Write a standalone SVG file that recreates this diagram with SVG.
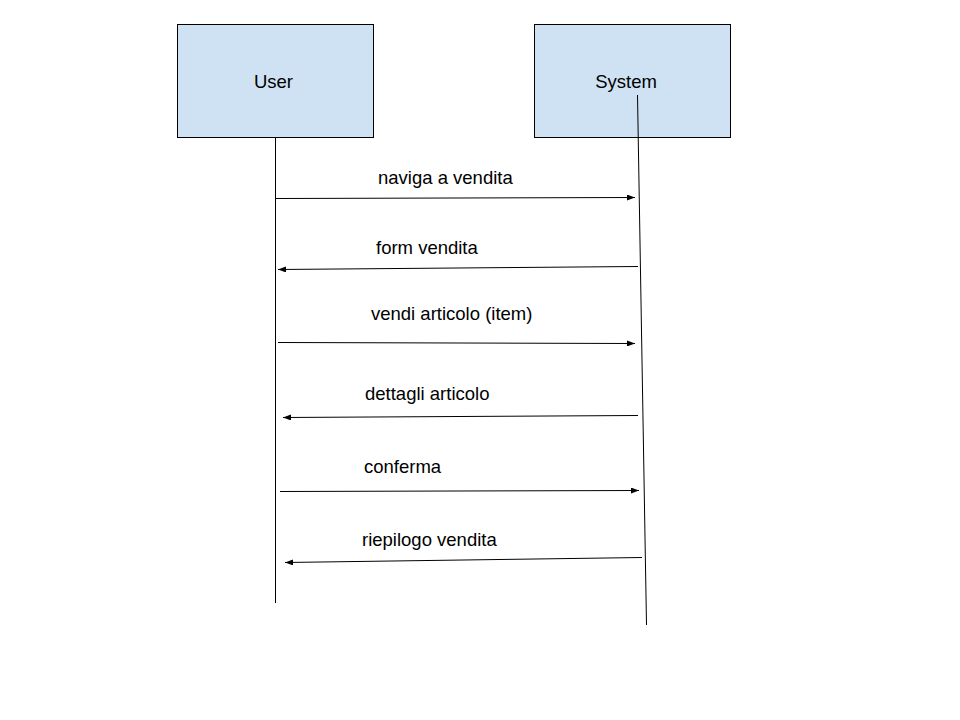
<svg xmlns="http://www.w3.org/2000/svg" width="960" height="720" viewBox="0 0 960 720">
<style>
.box{fill:#cfe2f3;stroke:#000;stroke-width:1}
.ll{stroke:#000;stroke-width:1;fill:none}
.msg{stroke:#000;stroke-width:1;fill:none;marker-end:url(#ah)}
text{font-family:"Liberation Sans",Arial,sans-serif;font-size:18.5px;fill:#000}
</style>
<defs>
<marker id="ah" viewBox="0 0 8 6" refX="8" refY="3" markerWidth="8" markerHeight="6" markerUnits="userSpaceOnUse" orient="auto">
<path d="M0,0 L8,3 L0,6 Z" fill="#000"/>
</marker>
</defs>
<rect width="960" height="720" fill="#fff"/>
<g id="user">
<rect class="box" x="177.5" y="24.5" width="196" height="113"/>
<text x="273.5" y="88" text-anchor="middle">User</text>
</g>
<g id="system">
<rect class="box" x="534.5" y="24.5" width="196" height="113"/>
<text x="626" y="88" text-anchor="middle">System</text>
</g>
<g id="connectors">
<line class="ll" x1="275.5" y1="137" x2="275.5" y2="603"/>
<line class="ll" x1="637.5" y1="95" x2="646.5" y2="625"/>
<line class="msg" x1="276" y1="198.5" x2="635" y2="197.5"/>
<line class="msg" x1="638" y1="266.5" x2="278" y2="269.5"/>
<line class="msg" x1="278" y1="342.5" x2="635" y2="343.5"/>
<line class="msg" x1="638" y1="415.5" x2="283" y2="417.5"/>
<line class="msg" x1="280" y1="491.5" x2="639" y2="490.5"/>
<line class="msg" x1="642" y1="557.5" x2="285" y2="562.5"/>
</g>
<g id="labels">
<text x="378" y="184">naviga a vendita</text>
<text x="376" y="254">form vendita</text>
<text x="371" y="320">vendi articolo (item)</text>
<text x="365" y="400">dettagli articolo</text>
<text x="364" y="473">conferma</text>
<text x="362" y="546">riepilogo vendita</text>
</g>
</svg>
